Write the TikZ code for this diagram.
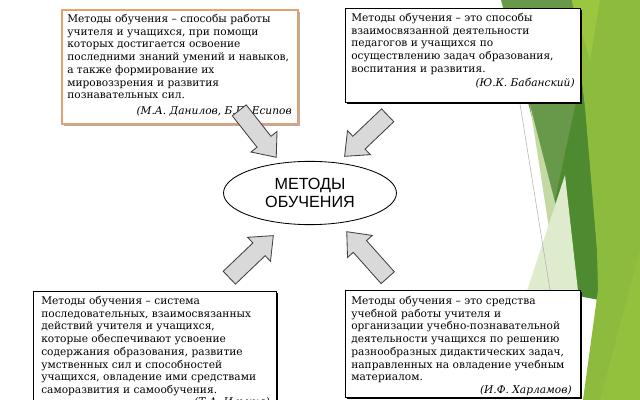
\documentclass[tikz,border=0pt]{standalone}
\usepackage{fontspec}
\setmainfont{DejaVu Serif}
\setsansfont{Liberation Sans}
\usetikzlibrary{shapes,shapes.arrows,shadows,fit,positioning,calc}

\definecolor{limegr}{HTML}{8CBB3D}
\definecolor{brightgr}{HTML}{9BC640}
\definecolor{midgr}{HTML}{68994A}
\definecolor{darkgr}{HTML}{4E8B30}
\definecolor{palegr}{HTML}{C4D9A4}
\definecolor{palergr}{HTML}{DFEBCD}
\definecolor{peach}{HTML}{E4A070}
\definecolor{arrowgray}{HTML}{D9D9D9}

\tikzset{
  defbox/.style={draw=black, fill=white, line width=0.6pt, inner sep=0pt,
    drop shadow={shadow xshift=1.4pt, shadow yshift=-1.4pt, fill=black, opacity=1}},
  orbox/.style={draw=peach, fill=white, line width=1pt, inner sep=0pt,
    drop shadow={shadow xshift=1.6pt, shadow yshift=-1.6pt, fill=black!45, opacity=0.7}},
  deftext/.style={anchor=north west, inner sep=0pt, align=left,
    font=\fontsize{7.55}{9.05}\selectfont},
  author/.style={anchor=north east, inner sep=0pt,
    font=\fontsize{7.55}{9.05}\selectfont\itshape},
  barrow/.style={single arrow, draw=black!75, fill=arrowgray, line width=0.6pt,
    anchor=tail, inner xsep=0pt, inner ysep=6pt,
    single arrow head extend=5.5pt, single arrow tip angle=80}
}

\begin{document}
\begin{tikzpicture}[x=0.025cm, y=-0.025cm]
  \useasboundingbox (0,0) rectangle (640,400);

  % slide background on the right
  \fill[midgr] (501,0) -- (600,0) -- (600,300) -- (579,296) -- cycle;
  \fill[darkgr] (585,60) -- (600,300) -- (579,296) -- (555,200) -- cycle;
  \fill[palegr] (530,105) -- (579,296) -- (560,300) -- cycle;
  \fill[palergr] (524,300) -- (565,175) -- (579,300) -- cycle;
  \fill[limegr] (572,0) -- (640,0) -- (640,400) -- (583,400) -- (598,290) -- (597,250) -- (585,107) -- cycle;
  \fill[brightgr] (572,0) -- (600,0) -- (590,60) -- cycle;
  \fill[brightgr!50!limegr] (640,250) -- (640,400) -- (600,400) -- cycle;
  \draw[gray!60, line width=0.4pt] (520,104) -- (550,290);

  % the four definitions
  \node[orbox, fit={(62,10) (298,124)}] (boxTL) {};
  \node[deftext] (txtTL) at (67,14) {Методы обучения – способы работы\\
    учителя и учащихся, при помощи\\
    которых достигается освоение\\
    последними знаний умений и навыков,\\
    а также формирование их\\
    мировоззрения и развития\\
    познавательных сил.};
  \node[author] (autTL) at (292,106) {(М.А. Данилов, Б.П. Есипов};

  \node[defbox, fit={(345,8) (580,102)}] (boxTR) {};
  \node[deftext] (txtTR) at (351,13) {Методы обучения – это способы\\
    взаимосвязанной деятельности\\
    педагогов и учащихся по\\
    осуществлению задач образования,\\
    воспитания и развития.};
  \node[author] (autTR) at (575,78) {(Ю.К. Бабанский)};

  \node[defbox, fit={(33,291) (276,410)}] (boxBL) {};
  \node[deftext] (txtBL) at (41,296) {Методы обучения – система\\
    последовательных, взаимосвязанных\\
    действий учителя и учащихся,\\
    которые обеспечивают усвоение\\
    содержания образования, развитие\\
    умственных сил и способностей\\
    учащихся, овладение ими средствами\\
    саморазвития и самообучения.};
  \node[author] (autBL) at (270,397) {(Т.А. Ильина)};

  \node[defbox, fit={(345,290) (580,397)}] (boxBR) {};
  \node[deftext] (txtBR) at (351,296) {Методы обучения – это средства\\
    учебной работы учителя и\\
    организации учебно-познавательной\\
    деятельности учащихся по решению\\
    разнообразных дидактических задач,\\
    направленных на овладение учебным\\
    материалом.};
  \node[author] (autBR) at (572,385) {(И.Ф. Харламов)};

  % centre
  \node[ellipse, draw, fill=white, line width=0.6pt, minimum width=123pt, minimum height=45pt,
    align=center, font=\sffamily\fontsize{11.5}{12.8}\selectfont] (methods) at (310,193) {МЕТОДЫ\\ОБУЧЕНИЯ};

  % block arrows
  \node[barrow, rotate=-51.8, minimum height=42.5pt] (arrTL) at (239,110) {};
  \node[barrow, rotate=223.6, minimum height=42.3pt] (arrTR) at (388,115) {};
  \node[barrow, rotate=43.7, minimum height=43.3pt] (arrBL) at (229,278) {};
  \node[barrow, rotate=131.7, minimum height=43.8pt] (arrBR) at (388,278) {};
\end{tikzpicture}
\end{document}
